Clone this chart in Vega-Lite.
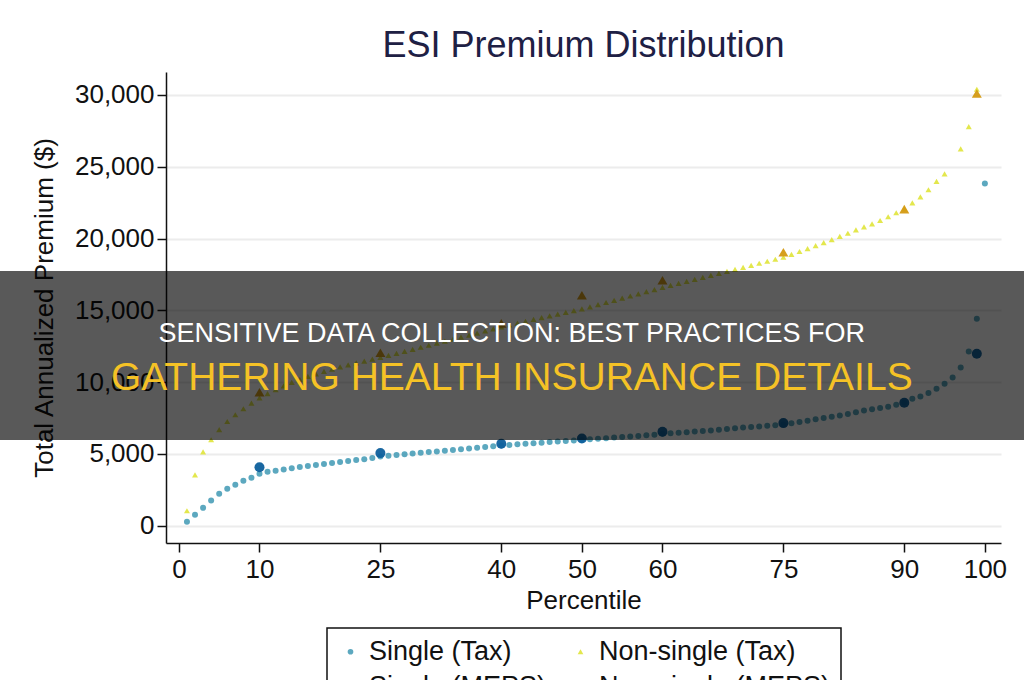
{
  "$schema": "https://vega.github.io/schema/vega-lite/v6.json",
  "width": 835,
  "height": 471,
  "autosize": {"type": "none"},
  "padding": {"left": 166, "top": 72, "right": 23, "bottom": 137},
  "background": "white",
  "config": {
    "font": "Liberation Sans",
    "view": {"stroke": null},
    "legend": {
      "orient": "none",
      "legendX": 161,
      "legendY": 556,
      "columns": 2,
      "title": null,
      "labelFontSize": 27,
      "labelColor": "#111111",
      "labelFont": "Liberation Sans",
      "strokeColor": "#111111",
      "strokeWidth": 1.5,
      "fillColor": "white",
      "padding": 10,
      "columnPadding": 20,
      "rowPadding": 7,
      "labelOffset": 5,
      "labelLimit": 400,
      "symbolSize": 32
    }
  },
  "title": {
    "text": "ESI Premium Distribution",
    "fontSize": 36,
    "fontWeight": "normal",
    "color": "#1e2044",
    "offset": 7,
    "anchor": "middle"
  },
  "datasets": {
    "tax": [
      {"p":1,"Single (Tax)":280,"Non-single (Tax)":1045},
      {"p":2,"Single (Tax)":770,"Non-single (Tax)":3550},
      {"p":3,"Single (Tax)":1250,"Non-single (Tax)":5150},
      {"p":4,"Single (Tax)":1760,"Non-single (Tax)":5990},
      {"p":5,"Single (Tax)":2230,"Non-single (Tax)":6690},
      {"p":6,"Single (Tax)":2580,"Non-single (Tax)":7260},
      {"p":7,"Single (Tax)":2860,"Non-single (Tax)":7730},
      {"p":8,"Single (Tax)":3130,"Non-single (Tax)":8150},
      {"p":9,"Single (Tax)":3340,"Non-single (Tax)":8540},
      {"p":10,"Single (Tax)":3620,"Non-single (Tax)":8900},
      {"p":11,"Single (Tax)":3760,"Non-single (Tax)":9200},
      {"p":12,"Single (Tax)":3840,"Non-single (Tax)":9480},
      {"p":13,"Single (Tax)":3920,"Non-single (Tax)":9740},
      {"p":14,"Single (Tax)":4010,"Non-single (Tax)":9980},
      {"p":15,"Single (Tax)":4090,"Non-single (Tax)":10200},
      {"p":16,"Single (Tax)":4160,"Non-single (Tax)":10400},
      {"p":17,"Single (Tax)":4230,"Non-single (Tax)":10580},
      {"p":18,"Single (Tax)":4300,"Non-single (Tax)":10750},
      {"p":19,"Single (Tax)":4370,"Non-single (Tax)":10910},
      {"p":20,"Single (Tax)":4440,"Non-single (Tax)":11060},
      {"p":21,"Single (Tax)":4510,"Non-single (Tax)":11200},
      {"p":22,"Single (Tax)":4580,"Non-single (Tax)":11340},
      {"p":23,"Single (Tax)":4640,"Non-single (Tax)":11470},
      {"p":24,"Single (Tax)":4720,"Non-single (Tax)":11600},
      {"p":25,"Single (Tax)":4820,"Non-single (Tax)":11720},
      {"p":26,"Single (Tax)":4880,"Non-single (Tax)":11860},
      {"p":27,"Single (Tax)":4930,"Non-single (Tax)":12000},
      {"p":28,"Single (Tax)":4980,"Non-single (Tax)":12150},
      {"p":29,"Single (Tax)":5030,"Non-single (Tax)":12290},
      {"p":30,"Single (Tax)":5080,"Non-single (Tax)":12430},
      {"p":31,"Single (Tax)":5130,"Non-single (Tax)":12570},
      {"p":32,"Single (Tax)":5180,"Non-single (Tax)":12710},
      {"p":33,"Single (Tax)":5230,"Non-single (Tax)":12860},
      {"p":34,"Single (Tax)":5280,"Non-single (Tax)":13000},
      {"p":35,"Single (Tax)":5330,"Non-single (Tax)":13140},
      {"p":36,"Single (Tax)":5380,"Non-single (Tax)":13280},
      {"p":37,"Single (Tax)":5430,"Non-single (Tax)":13420},
      {"p":38,"Single (Tax)":5480,"Non-single (Tax)":13570},
      {"p":39,"Single (Tax)":5530,"Non-single (Tax)":13710},
      {"p":40,"Single (Tax)":5590,"Non-single (Tax)":13850},
      {"p":41,"Single (Tax)":5630,"Non-single (Tax)":13980},
      {"p":42,"Single (Tax)":5670,"Non-single (Tax)":14110},
      {"p":43,"Single (Tax)":5710,"Non-single (Tax)":14240},
      {"p":44,"Single (Tax)":5750,"Non-single (Tax)":14370},
      {"p":45,"Single (Tax)":5790,"Non-single (Tax)":14500},
      {"p":46,"Single (Tax)":5830,"Non-single (Tax)":14620},
      {"p":47,"Single (Tax)":5870,"Non-single (Tax)":14740},
      {"p":48,"Single (Tax)":5910,"Non-single (Tax)":14860},
      {"p":49,"Single (Tax)":5940,"Non-single (Tax)":14980},
      {"p":50,"Single (Tax)":5980,"Non-single (Tax)":15100},
      {"p":51,"Single (Tax)":6020,"Non-single (Tax)":15250},
      {"p":52,"Single (Tax)":6060,"Non-single (Tax)":15400},
      {"p":53,"Single (Tax)":6100,"Non-single (Tax)":15550},
      {"p":54,"Single (Tax)":6140,"Non-single (Tax)":15700},
      {"p":55,"Single (Tax)":6180,"Non-single (Tax)":15850},
      {"p":56,"Single (Tax)":6220,"Non-single (Tax)":16000},
      {"p":57,"Single (Tax)":6260,"Non-single (Tax)":16150},
      {"p":58,"Single (Tax)":6300,"Non-single (Tax)":16300},
      {"p":59,"Single (Tax)":6340,"Non-single (Tax)":16450},
      {"p":60,"Single (Tax)":6400,"Non-single (Tax)":16600},
      {"p":61,"Single (Tax)":6440,"Non-single (Tax)":16740},
      {"p":62,"Single (Tax)":6480,"Non-single (Tax)":16880},
      {"p":63,"Single (Tax)":6520,"Non-single (Tax)":17020},
      {"p":64,"Single (Tax)":6560,"Non-single (Tax)":17160},
      {"p":65,"Single (Tax)":6600,"Non-single (Tax)":17300},
      {"p":66,"Single (Tax)":6640,"Non-single (Tax)":17440},
      {"p":67,"Single (Tax)":6690,"Non-single (Tax)":17580},
      {"p":68,"Single (Tax)":6740,"Non-single (Tax)":17720},
      {"p":69,"Single (Tax)":6790,"Non-single (Tax)":17860},
      {"p":70,"Single (Tax)":6840,"Non-single (Tax)":18000},
      {"p":71,"Single (Tax)":6880,"Non-single (Tax)":18140},
      {"p":72,"Single (Tax)":6920,"Non-single (Tax)":18280},
      {"p":73,"Single (Tax)":6960,"Non-single (Tax)":18420},
      {"p":74,"Single (Tax)":7000,"Non-single (Tax)":18560},
      {"p":75,"Single (Tax)":7050,"Non-single (Tax)":18700},
      {"p":76,"Single (Tax)":7140,"Non-single (Tax)":18900},
      {"p":77,"Single (Tax)":7230,"Non-single (Tax)":19100},
      {"p":78,"Single (Tax)":7320,"Non-single (Tax)":19300},
      {"p":79,"Single (Tax)":7410,"Non-single (Tax)":19510},
      {"p":80,"Single (Tax)":7500,"Non-single (Tax)":19720},
      {"p":81,"Single (Tax)":7590,"Non-single (Tax)":19930},
      {"p":82,"Single (Tax)":7680,"Non-single (Tax)":20150},
      {"p":83,"Single (Tax)":7780,"Non-single (Tax)":20370},
      {"p":84,"Single (Tax)":7900,"Non-single (Tax)":20600},
      {"p":85,"Single (Tax)":8020,"Non-single (Tax)":20820},
      {"p":86,"Single (Tax)":8120,"Non-single (Tax)":21030},
      {"p":87,"Single (Tax)":8200,"Non-single (Tax)":21260},
      {"p":88,"Single (Tax)":8290,"Non-single (Tax)":21520},
      {"p":89,"Single (Tax)":8420,"Non-single (Tax)":21800},
      {"p":90,"Single (Tax)":8580,"Non-single (Tax)":22080},
      {"p":91,"Single (Tax)":8840,"Non-single (Tax)":22490},
      {"p":92,"Single (Tax)":9000,"Non-single (Tax)":22910},
      {"p":93,"Single (Tax)":9240,"Non-single (Tax)":23400},
      {"p":94,"Single (Tax)":9540,"Non-single (Tax)":23980},
      {"p":95,"Single (Tax)":9890,"Non-single (Tax)":24510},
      {"p":96,"Single (Tax)":10330,"Non-single (Tax)":null},
      {"p":97,"Single (Tax)":11030,"Non-single (Tax)":26250},
      {"p":98,"Single (Tax)":12140,"Non-single (Tax)":27800},
      {"p":99,"Single (Tax)":14420,"Non-single (Tax)":30400},
      {"p":100,"Single (Tax)":23840,"Non-single (Tax)":null}
    ],
    "meps": [
      {"p":10,"Single (MEPS)":4080,"Non-single (MEPS)":9300},
      {"p":25,"Single (MEPS)":5060,"Non-single (MEPS)":12050},
      {"p":40,"Single (MEPS)":5710,"Non-single (MEPS)":14100},
      {"p":50,"Single (MEPS)":6080,"Non-single (MEPS)":16050},
      {"p":60,"Single (MEPS)":6550,"Non-single (MEPS)":17100},
      {"p":75,"Single (MEPS)":7150,"Non-single (MEPS)":19050},
      {"p":90,"Single (MEPS)":8570,"Non-single (MEPS)":22050},
      {"p":99,"Single (MEPS)":11980,"Non-single (MEPS)":30100}
    ],
    "banner1": [{"t": "SENSITIVE DATA COLLECTION: BEST PRACTICES FOR"}],
    "banner2": [{"t": "GATHERING HEALTH INSURANCE DETAILS"}],
    "banner": [{"t": "banner"}]
  },
  "layer": [
    {
      "data": {"name": "tax"},
      "transform": [
        {"fold": ["Single (Tax)", "Non-single (Tax)"], "as": ["series", "premium"]},
        {"filter": "isValid(datum.premium)"}
      ],
      "mark": {"type": "point", "filled": true, "opacity": 0.9, "strokeWidth": 0, "size": 36},
      "encoding": {
        "x": {
          "field": "p",
          "type": "quantitative",
          "scale": {"domain": [-1.6, 102], "nice": false, "zero": false},
          "axis": {
            "values": [0, 10, 25, 40, 50, 60, 75, 90, 100],
            "title": "Percentile",
            "titleFontSize": 26,
            "titleFontWeight": "normal",
            "titleColor": "#111111",
            "titlePadding": 5,
            "labelFontSize": 26,
            "labelColor": "#111111",
            "labelPadding": 4,
            "domainColor": "#111111",
            "domainWidth": 1.5,
            "tickColor": "#111111",
            "tickWidth": 1.5,
            "tickSize": 9,
            "grid": false
          }
        },
        "y": {
          "field": "premium",
          "type": "quantitative",
          "scale": {"domain": [-1200, 31600], "nice": false, "zero": false},
          "axis": {
            "values": [0, 5000, 10000, 15000, 20000, 25000, 30000],
            "format": ",.0f",
            "title": "Total Annualized Premium ($)",
            "titleFontSize": 26,
            "titleFontWeight": "normal",
            "titleColor": "#111111",
            "titlePadding": 17,
            "labelFontSize": 26,
            "labelColor": "#111111",
            "labelPadding": 3,
            "domainColor": "#111111",
            "domainWidth": 1.5,
            "tickColor": "#111111",
            "tickWidth": 1.5,
            "tickSize": 9,
            "grid": true,
            "gridColor": "#ececec",
            "gridWidth": 2
          }
        },
        "color": {
          "field": "series",
          "type": "nominal",
          "scale": {
            "domain": ["Single (Tax)", "Single (MEPS)", "Non-single (Tax)", "Non-single (MEPS)"],
            "range": ["#4a9fb8", "#0d5f9c", "#e0e43a", "#d49a12"]
          }
        },
        "shape": {
          "field": "series",
          "type": "nominal",
          "scale": {
            "domain": ["Single (Tax)", "Single (MEPS)", "Non-single (Tax)", "Non-single (MEPS)"],
            "range": ["circle", "circle", "triangle-up", "triangle-up"]
          }
        }
      }
    },
    {
      "data": {"name": "meps"},
      "transform": [
        {"fold": ["Single (MEPS)", "Non-single (MEPS)"], "as": ["series", "premium"]},
        {"filter": "isValid(datum.premium)"}
      ],
      "mark": {"type": "point", "filled": true, "opacity": 0.95, "strokeWidth": 0, "size": 100},
      "encoding": {
        "x": {"field": "p", "type": "quantitative"},
        "y": {"field": "premium", "type": "quantitative"},
        "color": {"field": "series", "type": "nominal"},
        "shape": {"field": "series", "type": "nominal"}
      }
    },
    {
      "data": {"name": "banner"},
      "mark": {"type": "rect", "color": "#000000", "opacity": 0.65, "clip": false},
      "encoding": {
        "x": {"datum": -22.4, "type": "quantitative"},
        "x2": {"datum": 105.2},
        "y": {"datum": 17742, "type": "quantitative"},
        "y2": {"datum": 5973}
      }
    },
    {
      "data": {"name": "banner1"},
      "mark": {"type": "text", "color": "#ffffff", "fontSize": 27, "align": "center", "baseline": "middle", "clip": false},
      "encoding": {
        "text": {"field": "t"},
        "x": {"datum": 41.3, "type": "quantitative"},
        "y": {"datum": 13355, "type": "quantitative"}
      }
    },
    {
      "data": {"name": "banner2"},
      "mark": {"type": "text", "color": "#f5c226", "fontSize": 39, "align": "center", "baseline": "middle", "clip": false},
      "encoding": {
        "text": {"field": "t"},
        "x": {"datum": 41.3, "type": "quantitative"},
        "y": {"datum": 10290, "type": "quantitative"}
      }
    }
  ]
}
